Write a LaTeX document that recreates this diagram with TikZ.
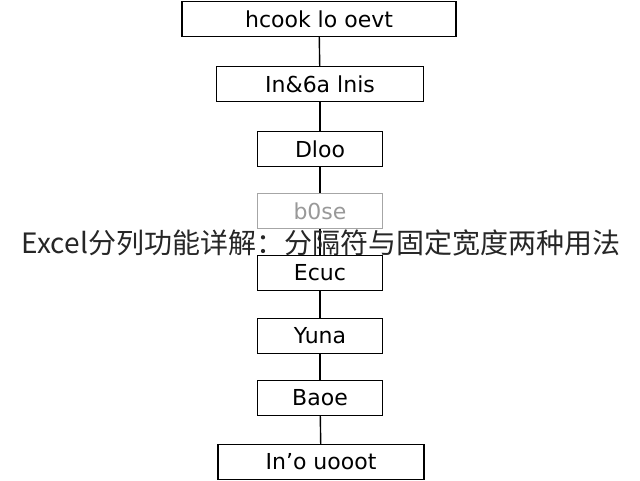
\documentclass[tikz,border=0pt]{standalone}
\usepackage{fontspec}
\setmainfont{DejaVu Sans}
\newfontfamily\cjk{Noto Sans CJK SC}
\usetikzlibrary{positioning}
\tikzset{
  stepbox/.style={draw,semithick,line width=1.4pt,minimum height=35pt,inner sep=2pt,font=\fontsize{22}{24}\selectfont},
  link/.style={line width=1.4pt}
}
\begin{document}
\begin{tikzpicture}[x=1pt,y=-1pt]
    \useasboundingbox[fill=white] (0,0) rectangle (640,480);
    \node[stepbox,minimum width=274pt] (hook) at (319,19) {hcook lo oevt};
    \node[stepbox,minimum width=207pt] (inas) at (320,84) {In\&6a lnis};
    \node[stepbox,minimum width=125pt] (dloo) at (320,149) {Dloo};
    \node[stepbox,minimum width=125pt,draw=black!35,text=black!40] (bose) at (320,211) {b0se};
    \node[stepbox,minimum width=125pt] (ecuc) at (320,273) {Ecuc};
    \node[stepbox,minimum width=125pt] (yuna) at (320,336) {Yuna};
    \node[stepbox,minimum width=125pt] (baoe) at (320,398) {Baoe};
    \node[stepbox,minimum width=206pt] (inuo) at (321,462) {In'o uooot};
    % connectors
    \draw[link] (hook) -- (inas);
    \draw[link] (inas) -- (dloo);
    \draw[link] (dloo) -- (bose);
    \draw[link] (bose) -- (ecuc);
    \draw[link] (ecuc) -- (yuna);
    \draw[link] (yuna) -- (baoe);
    \draw[link] (baoe) -- (inuo);
    \node[font=\cjk\fontsize{28}{30}\selectfont,text=black!85] (title) at (321,243) {Excel分列功能详解：分隔符与固定宽度两种用法};
\end{tikzpicture}
\end{document}
